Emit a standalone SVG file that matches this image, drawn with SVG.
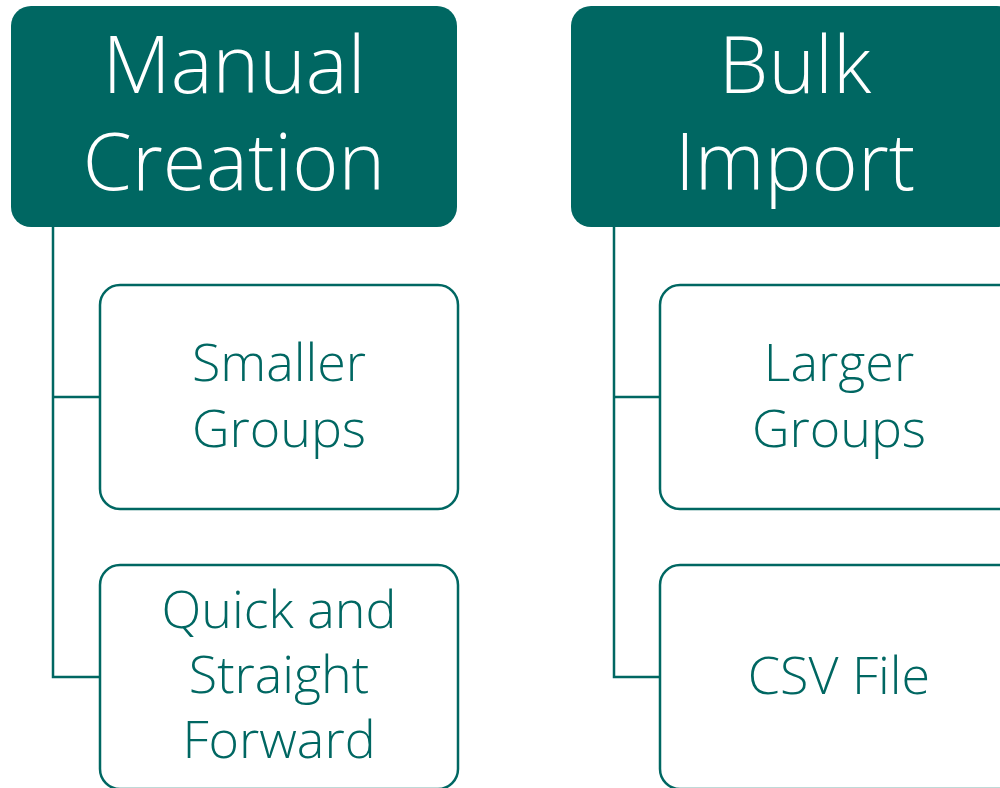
<svg xmlns="http://www.w3.org/2000/svg" width="1000" height="788" viewBox="0 0 1000 788">
<style>
.hdr{fill:#006762;}
.child{fill:#ffffff;stroke:#006762;stroke-width:2.5;}
.ht{font-family:"Open Sans","Liberation Sans",sans-serif;font-weight:300;font-size:79px;fill:#ffffff;text-anchor:middle;}
.ct{font-family:"Open Sans","Liberation Sans",sans-serif;font-weight:300;font-size:52px;fill:#006762;text-anchor:middle;}
.conn{fill:none;stroke:#006762;stroke-width:2.5;}
</style>
<rect width="1000" height="788" fill="#ffffff"/>
<g id="connectors">
<path class="conn" d="M53,227 V677 H100 M53,397 H100"/>
<path class="conn" d="M614,227 V677 H660 M614,397 H660"/>
</g>
<g id="manual-creation">
<rect class="hdr" x="11" y="6" width="446" height="221" rx="20"/>
<text class="ht" x="234" y="93">Manual</text>
<text class="ht" x="234" y="190">Creation</text>
</g>
<g id="bulk-import">
<rect class="hdr" x="571" y="6" width="446" height="221" rx="20"/>
<text class="ht" x="795" y="93">Bulk</text>
<text class="ht" x="795" y="190">Import</text>
</g>
<g id="smaller-groups">
<rect class="child" x="100" y="285" width="358" height="224" rx="20"/>
<text class="ct" x="279" y="381">Smaller</text>
<text class="ct" x="279" y="447">Groups</text>
</g>
<g id="quick-straight">
<rect class="child" x="100" y="565" width="358" height="224" rx="20"/>
<text class="ct" x="279" y="628">Quick and</text>
<text class="ct" x="279" y="693">Straight</text>
<text class="ct" x="279" y="758">Forward</text>
</g>
<g id="larger-groups">
<rect class="child" x="660" y="285" width="358" height="224" rx="20"/>
<text class="ct" x="839" y="381">Larger</text>
<text class="ct" x="839" y="447">Groups</text>
</g>
<g id="csv-file">
<rect class="child" x="660" y="565" width="358" height="224" rx="20"/>
<text class="ct" x="839" y="694">CSV File</text>
</g>
</svg>
